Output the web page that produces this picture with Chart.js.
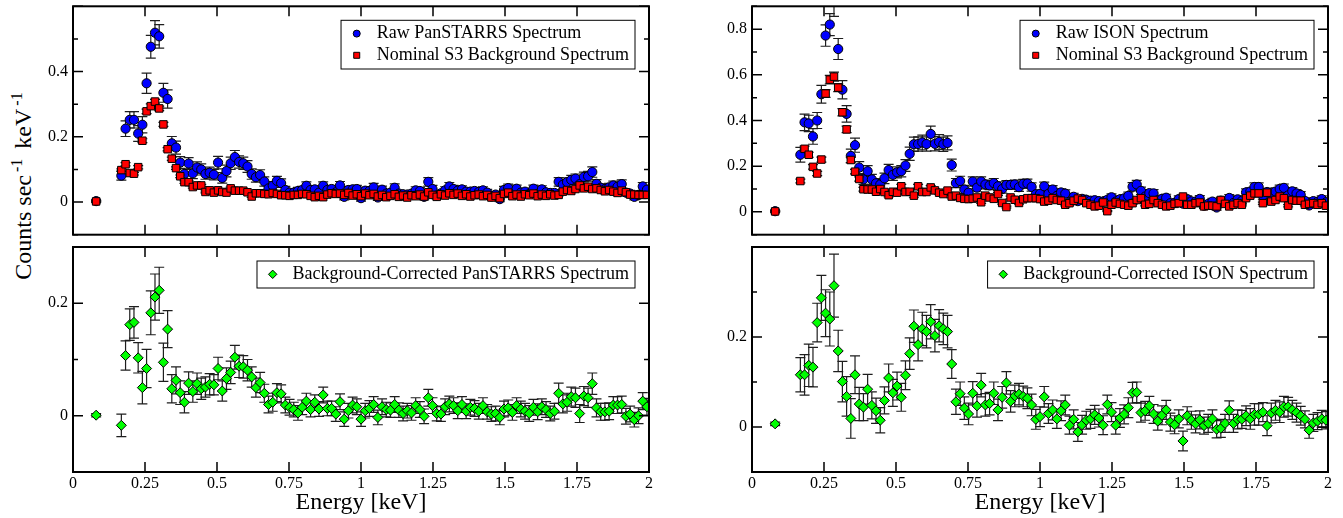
<!DOCTYPE html>
<html>
<head>
<meta charset="utf-8">
<title>PanSTARRS / ISON spectra</title>
<script src="https://cdn.jsdelivr.net/npm/chart.js@4.4.0/dist/chart.umd.min.js"></script>
<style>
  body { margin: 0; background: #fff; width: 1343px; height: 518px; position: relative; overflow: hidden;
         font-family: 'Liberation Serif', 'Times New Roman', serif; }
  canvas.panel { position: absolute; }
  #ylabel { position: absolute; left: 22px; top: 184px; transform: translate(-50%, -50%) rotate(-90deg);
            font-size: 24px; white-space: nowrap; color: #000; }
  #ylabel sup { font-size: 16px; margin: 0 4px 0 3px; }
</style>
</head>
<body>
<div id="ylabel">Counts sec<sup>-1</sup> keV<sup>-1</sup></div>
<canvas id="pan-top" class="panel" style="left:0;top:0" width="660" height="241"></canvas>
<canvas id="pan-net" class="panel" style="left:0;top:241px" width="660" height="277"></canvas>
<canvas id="ison-top" class="panel" style="left:679px;top:0" width="660" height="241"></canvas>
<canvas id="ison-net" class="panel" style="left:679px;top:241px" width="660" height="277"></canvas>
<script>
// channel energies (keV), one row per 10 channels
var energy = [0.0803,
  0.1679, 0.1825, 0.1971, 0.2117, 0.2263, 0.2409, 0.2555, 0.2701, 0.2847, 0.2993,
  0.3139, 0.3285, 0.3431, 0.3577, 0.3723, 0.3869, 0.4015, 0.4161, 0.4307, 0.4453,
  0.4599, 0.4745, 0.4891, 0.5037, 0.5183, 0.5329, 0.5475, 0.5621, 0.5767, 0.5913,
  0.6059, 0.6205, 0.6351, 0.6497, 0.6643, 0.6789, 0.6935, 0.7081, 0.7227, 0.7373,
  0.7519, 0.7665, 0.7811, 0.7957, 0.8103, 0.8249, 0.8395, 0.8541, 0.8687, 0.8833,
  0.8979, 0.9125, 0.9271, 0.9417, 0.9563, 0.9709, 0.9855, 1.0001, 1.0147, 1.0293,
  1.0439, 1.0585, 1.0731, 1.0877, 1.1023, 1.1169, 1.1315, 1.1461, 1.1607, 1.1753,
  1.1899, 1.2045, 1.2191, 1.2337, 1.2483, 1.2629, 1.2775, 1.2921, 1.3067, 1.3213,
  1.3359, 1.3505, 1.3651, 1.3797, 1.3943, 1.4089, 1.4235, 1.4381, 1.4527, 1.4673,
  1.4819, 1.4965, 1.5111, 1.5257, 1.5403, 1.5549, 1.5695, 1.5841, 1.5987, 1.6133,
  1.6279, 1.6425, 1.6571, 1.6717, 1.6863, 1.7009, 1.7155, 1.7301, 1.7447, 1.7593,
  1.7739, 1.7885, 1.8031, 1.8177, 1.8323, 1.8469, 1.8615, 1.8761, 1.8907, 1.9053,
  1.9199, 1.9345, 1.9491, 1.9637, 1.9783, 1.9929];

// PanSTARRS: raw spectrum
var panRaw = [0.003,
  0.081, 0.225, 0.252, 0.252, 0.210, 0.237, 0.364, 0.476, 0.519, 0.508,
  0.335, 0.316, 0.180, 0.167, 0.121, 0.086, 0.118, 0.088, 0.106, 0.100,
  0.086, 0.090, 0.084, 0.121, 0.074, 0.095, 0.119, 0.138, 0.123, 0.119,
  0.109, 0.086, 0.076, 0.083, 0.063, 0.042, 0.050, 0.065, 0.058, 0.037,
  0.029, 0.029, 0.034, 0.037, 0.050, 0.037, 0.039, 0.029, 0.050, 0.037,
  0.040, 0.030, 0.051, 0.016, 0.037, 0.039, 0.040, 0.012, 0.035, 0.034,
  0.045, 0.014, 0.038, 0.026, 0.029, 0.044, 0.026, 0.024, 0.023, 0.026,
  0.036, 0.034, 0.016, 0.062, 0.040, 0.020, 0.027, 0.036, 0.048, 0.040,
  0.035, 0.039, 0.032, 0.032, 0.034, 0.031, 0.036, 0.029, 0.017, 0.023,
  0.009, 0.037, 0.043, 0.024, 0.041, 0.029, 0.032, 0.025, 0.041, 0.025,
  0.039, 0.030, 0.028, 0.028, 0.062, 0.053, 0.061, 0.068, 0.072, 0.055,
  0.077, 0.079, 0.092, 0.056, 0.044, 0.040, 0.045, 0.051, 0.047, 0.055,
  0.029, 0.026, 0.016, 0.022, 0.048, 0.038];
var panRawErr = [0.003,
  0.014, 0.024, 0.025, 0.025, 0.024, 0.025, 0.031, 0.035, 0.037, 0.036,
  0.029, 0.028, 0.021, 0.020, 0.018, 0.016, 0.018, 0.016, 0.017, 0.017,
  0.016, 0.017, 0.016, 0.019, 0.016, 0.018, 0.019, 0.020, 0.019, 0.019,
  0.018, 0.016, 0.015, 0.016, 0.014, 0.012, 0.013, 0.014, 0.013, 0.011,
  0.011, 0.011, 0.011, 0.011, 0.012, 0.011, 0.011, 0.010, 0.012, 0.011,
  0.011, 0.010, 0.012, 0.009, 0.011, 0.011, 0.011, 0.009, 0.011, 0.011,
  0.012, 0.009, 0.011, 0.010, 0.010, 0.012, 0.010, 0.010, 0.010, 0.010,
  0.011, 0.011, 0.009, 0.013, 0.011, 0.010, 0.010, 0.011, 0.012, 0.011,
  0.011, 0.011, 0.010, 0.010, 0.011, 0.010, 0.011, 0.010, 0.009, 0.010,
  0.008, 0.011, 0.012, 0.010, 0.011, 0.010, 0.010, 0.010, 0.011, 0.010,
  0.011, 0.010, 0.010, 0.010, 0.013, 0.013, 0.013, 0.014, 0.014, 0.013,
  0.015, 0.015, 0.016, 0.013, 0.012, 0.012, 0.012, 0.013, 0.012, 0.013,
  0.010, 0.010, 0.009, 0.010, 0.012, 0.011];

// PanSTARRS: nominal S3 background
var panBkg = [0.002,
  0.098, 0.116, 0.089, 0.087, 0.107, 0.188, 0.278, 0.294, 0.308, 0.287,
  0.238, 0.162, 0.133, 0.104, 0.079, 0.061, 0.061, 0.046, 0.051, 0.051,
  0.031, 0.036, 0.029, 0.036, 0.031, 0.029, 0.042, 0.035, 0.035, 0.035,
  0.030, 0.017, 0.027, 0.027, 0.025, 0.024, 0.028, 0.025, 0.021, 0.021,
  0.019, 0.022, 0.022, 0.025, 0.024, 0.019, 0.015, 0.019, 0.015, 0.023,
  0.027, 0.025, 0.026, 0.022, 0.028, 0.020, 0.024, 0.018, 0.026, 0.021,
  0.025, 0.017, 0.022, 0.015, 0.019, 0.024, 0.016, 0.020, 0.014, 0.021,
  0.018, 0.023, 0.017, 0.030, 0.022, 0.016, 0.024, 0.020, 0.027, 0.022,
  0.026, 0.019, 0.024, 0.017, 0.021, 0.023, 0.018, 0.022, 0.014, 0.019,
  0.012, 0.025, 0.029, 0.018, 0.023, 0.017, 0.024, 0.021, 0.026, 0.018,
  0.023, 0.019, 0.024, 0.020, 0.022, 0.032, 0.037, 0.034, 0.040, 0.051,
  0.042, 0.047, 0.040, 0.042, 0.037, 0.033, 0.037, 0.032, 0.028, 0.035,
  0.030, 0.023, 0.023, 0.022, 0.022, 0.022];
var panBkgErr = [0.002,
  0.004, 0.005, 0.004, 0.004, 0.005, 0.006, 0.007, 0.007, 0.007, 0.007,
  0.006, 0.005, 0.005, 0.004, 0.004, 0.004, 0.004, 0.003, 0.003, 0.003,
  0.003, 0.003, 0.003, 0.003, 0.003, 0.003, 0.004, 0.003, 0.003, 0.003,
  0.003, 0.003, 0.003, 0.003, 0.003, 0.003, 0.003, 0.003, 0.003, 0.003,
  0.003, 0.003, 0.003, 0.003, 0.003, 0.003, 0.003, 0.003, 0.003, 0.003,
  0.003, 0.003, 0.003, 0.003, 0.003, 0.003, 0.003, 0.003, 0.003, 0.003,
  0.003, 0.003, 0.003, 0.003, 0.003, 0.003, 0.003, 0.003, 0.003, 0.003,
  0.003, 0.003, 0.003, 0.003, 0.003, 0.003, 0.003, 0.003, 0.003, 0.003,
  0.003, 0.003, 0.003, 0.003, 0.003, 0.003, 0.003, 0.003, 0.003, 0.003,
  0.003, 0.003, 0.003, 0.003, 0.003, 0.003, 0.003, 0.003, 0.003, 0.003,
  0.003, 0.003, 0.003, 0.003, 0.003, 0.004, 0.004, 0.004, 0.004, 0.004,
  0.004, 0.004, 0.004, 0.004, 0.004, 0.004, 0.004, 0.003, 0.003, 0.003,
  0.003, 0.003, 0.003, 0.003, 0.003, 0.003];

// PanSTARRS: background-corrected
var panNet = [0.001,
  -0.017, 0.107, 0.162, 0.166, 0.103, 0.050, 0.084, 0.183, 0.211, 0.223,
  0.095, 0.154, 0.048, 0.063, 0.041, 0.024, 0.058, 0.043, 0.057, 0.048,
  0.051, 0.056, 0.055, 0.084, 0.044, 0.066, 0.077, 0.104, 0.088, 0.087,
  0.081, 0.069, 0.050, 0.059, 0.040, 0.020, 0.024, 0.041, 0.039, 0.019,
  0.015, 0.011, 0.005, 0.015, 0.026, 0.011, 0.024, 0.012, 0.037, 0.013,
  0.013, 0.003, 0.025, -0.006, 0.009, 0.019, 0.016, -0.006, 0.009, 0.013,
  0.020, -0.003, 0.016, 0.011, 0.010, 0.020, 0.010, 0.004, 0.009, 0.005,
  0.018, 0.011, -0.001, 0.032, 0.018, 0.004, 0.003, 0.016, 0.021, 0.018,
  0.009, 0.020, 0.008, 0.015, 0.013, 0.008, 0.018, 0.007, 0.003, 0.004,
  -0.003, 0.012, 0.014, 0.006, 0.018, 0.012, 0.008, 0.004, 0.015, 0.007,
  0.016, 0.011, 0.004, 0.008, 0.040, 0.021, 0.024, 0.034, 0.032, 0.004,
  0.035, 0.032, 0.057, 0.014, 0.007, 0.007, 0.008, 0.019, 0.019, 0.020,
  -0.001, 0.003, -0.007, 0.000, 0.026, 0.016];
var panNetErr = [0.003,
  0.020, 0.026, 0.028, 0.028, 0.027, 0.029, 0.034, 0.039, 0.041, 0.041,
  0.034, 0.033, 0.025, 0.024, 0.021, 0.019, 0.020, 0.019, 0.019, 0.019,
  0.018, 0.019, 0.018, 0.020, 0.018, 0.019, 0.020, 0.021, 0.020, 0.020,
  0.019, 0.018, 0.017, 0.018, 0.016, 0.015, 0.016, 0.016, 0.016, 0.014,
  0.014, 0.013, 0.013, 0.013, 0.014, 0.013, 0.013, 0.013, 0.014, 0.013,
  0.013, 0.013, 0.014, 0.013, 0.013, 0.014, 0.014, 0.013, 0.013, 0.014,
  0.014, 0.013, 0.014, 0.013, 0.013, 0.014, 0.013, 0.013, 0.013, 0.013,
  0.014, 0.014, 0.013, 0.015, 0.014, 0.013, 0.013, 0.014, 0.014, 0.014,
  0.014, 0.014, 0.013, 0.014, 0.014, 0.014, 0.014, 0.013, 0.013, 0.013,
  0.013, 0.014, 0.014, 0.014, 0.014, 0.014, 0.014, 0.014, 0.014, 0.014,
  0.014, 0.014, 0.013, 0.014, 0.018, 0.016, 0.016, 0.017, 0.017, 0.016,
  0.017, 0.017, 0.019, 0.016, 0.015, 0.015, 0.015, 0.015, 0.015, 0.015,
  0.014, 0.014, 0.013, 0.014, 0.015, 0.015];

// ISON: raw spectrum
var isonRaw = [0.003,
  0.250, 0.392, 0.387, 0.330, 0.400, 0.515, 0.772, 0.820, 0.906, 0.713,
  0.535, 0.429, 0.245, 0.292, 0.194, 0.142, 0.178, 0.142, 0.125, 0.120,
  0.147, 0.183, 0.162, 0.173, 0.178, 0.203, 0.254, 0.296, 0.297, 0.304,
  0.297, 0.341, 0.298, 0.306, 0.296, 0.302, 0.205, 0.126, 0.135, 0.098,
  0.084, 0.133, 0.106, 0.133, 0.120, 0.116, 0.126, 0.112, 0.100, 0.118,
  0.118, 0.120, 0.108, 0.123, 0.124, 0.109, 0.077, 0.079, 0.112, 0.079,
  0.098, 0.070, 0.085, 0.080, 0.042, 0.066, 0.047, 0.057, 0.053, 0.049,
  0.051, 0.047, 0.045, 0.053, 0.064, 0.045, 0.055, 0.059, 0.070, 0.110,
  0.120, 0.092, 0.067, 0.082, 0.081, 0.051, 0.057, 0.062, 0.038, 0.040,
  0.056, 0.036, 0.056, 0.046, 0.045, 0.057, 0.027, 0.035, 0.045, 0.019,
  0.049, 0.043, 0.061, 0.039, 0.055, 0.048, 0.085, 0.089, 0.109, 0.109,
  0.071, 0.087, 0.076, 0.089, 0.100, 0.105, 0.072, 0.090, 0.081, 0.074,
  0.048, 0.028, 0.047, 0.044, 0.056, 0.042];
var isonRawErr = [0.004,
  0.032, 0.036, 0.036, 0.034, 0.035, 0.039, 0.047, 0.048, 0.050, 0.046,
  0.040, 0.036, 0.030, 0.031, 0.026, 0.022, 0.024, 0.022, 0.021, 0.021,
  0.023, 0.025, 0.024, 0.024, 0.025, 0.026, 0.029, 0.031, 0.031, 0.032,
  0.031, 0.034, 0.031, 0.032, 0.031, 0.031, 0.026, 0.020, 0.021, 0.018,
  0.017, 0.020, 0.018, 0.020, 0.019, 0.019, 0.020, 0.019, 0.018, 0.019,
  0.019, 0.019, 0.018, 0.019, 0.019, 0.018, 0.016, 0.016, 0.018, 0.016,
  0.017, 0.015, 0.016, 0.016, 0.013, 0.015, 0.014, 0.015, 0.014, 0.014,
  0.014, 0.014, 0.014, 0.014, 0.015, 0.014, 0.015, 0.015, 0.016, 0.018,
  0.018, 0.016, 0.015, 0.016, 0.016, 0.014, 0.015, 0.015, 0.013, 0.013,
  0.014, 0.013, 0.014, 0.014, 0.014, 0.014, 0.012, 0.013, 0.014, 0.012,
  0.014, 0.014, 0.015, 0.014, 0.015, 0.014, 0.016, 0.016, 0.018, 0.018,
  0.015, 0.016, 0.016, 0.016, 0.017, 0.017, 0.015, 0.016, 0.016, 0.015,
  0.013, 0.012, 0.013, 0.013, 0.014, 0.013];

// ISON: nominal S3 background
var isonBkg = [0.002,
  0.135, 0.276, 0.250, 0.197, 0.168, 0.229, 0.518, 0.579, 0.592, 0.544,
  0.436, 0.361, 0.227, 0.176, 0.144, 0.099, 0.098, 0.098, 0.088, 0.100,
  0.087, 0.073, 0.088, 0.084, 0.112, 0.087, 0.088, 0.071, 0.112, 0.087,
  0.087, 0.107, 0.094, 0.084, 0.078, 0.093, 0.067, 0.071, 0.061, 0.057,
  0.056, 0.058, 0.063, 0.042, 0.071, 0.063, 0.057, 0.078, 0.039, 0.021,
  0.063, 0.053, 0.039, 0.055, 0.060, 0.060, 0.060, 0.056, 0.045, 0.049,
  0.060, 0.052, 0.049, 0.031, 0.038, 0.049, 0.058, 0.052, 0.038, 0.031,
  0.024, 0.027, 0.041, 0.003, 0.031, 0.041, 0.035, 0.031, 0.027, 0.038,
  0.052, 0.060, 0.031, 0.035, 0.052, 0.038, 0.031, 0.024, 0.027, 0.035,
  0.038, 0.067, 0.031, 0.031, 0.038, 0.041, 0.024, 0.027, 0.027, 0.024,
  0.052, 0.035, 0.024, 0.031, 0.038, 0.031, 0.060, 0.071, 0.081, 0.081,
  0.038, 0.084, 0.045, 0.052, 0.067, 0.060, 0.027, 0.052, 0.049, 0.049,
  0.031, 0.035, 0.038, 0.031, 0.038, 0.027];
var isonBkgErr = [0.002,
  0.008, 0.012, 0.011, 0.010, 0.009, 0.011, 0.017, 0.019, 0.020, 0.018,
  0.016, 0.014, 0.011, 0.010, 0.009, 0.008, 0.008, 0.008, 0.007, 0.008,
  0.007, 0.007, 0.007, 0.007, 0.008, 0.007, 0.007, 0.007, 0.008, 0.007,
  0.007, 0.008, 0.007, 0.007, 0.007, 0.007, 0.006, 0.006, 0.006, 0.006,
  0.006, 0.006, 0.006, 0.005, 0.006, 0.006, 0.006, 0.006, 0.005, 0.004,
  0.006, 0.006, 0.005, 0.006, 0.006, 0.006, 0.006, 0.006, 0.005, 0.006,
  0.006, 0.006, 0.006, 0.005, 0.005, 0.006, 0.006, 0.006, 0.005, 0.005,
  0.005, 0.005, 0.005, 0.002, 0.005, 0.005, 0.005, 0.005, 0.005, 0.005,
  0.006, 0.006, 0.005, 0.005, 0.006, 0.005, 0.005, 0.005, 0.005, 0.005,
  0.005, 0.006, 0.005, 0.005, 0.005, 0.005, 0.005, 0.005, 0.005, 0.005,
  0.006, 0.005, 0.005, 0.005, 0.005, 0.005, 0.006, 0.007, 0.007, 0.007,
  0.005, 0.007, 0.006, 0.006, 0.006, 0.006, 0.005, 0.006, 0.006, 0.006,
  0.005, 0.005, 0.005, 0.005, 0.005, 0.005];

// ISON: background-corrected
var isonNet = [0.007,
  0.116, 0.116, 0.137, 0.133, 0.232, 0.287, 0.253, 0.240, 0.314, 0.169,
  0.101, 0.068, 0.019, 0.116, 0.051, 0.044, 0.084, 0.048, 0.036, 0.015,
  0.059, 0.109, 0.076, 0.091, 0.066, 0.115, 0.163, 0.224, 0.183, 0.218,
  0.212, 0.234, 0.203, 0.225, 0.218, 0.212, 0.140, 0.056, 0.074, 0.042,
  0.029, 0.075, 0.047, 0.093, 0.049, 0.052, 0.075, 0.038, 0.066, 0.098,
  0.057, 0.069, 0.073, 0.068, 0.064, 0.049, 0.017, 0.023, 0.067, 0.030,
  0.038, 0.018, 0.036, 0.049, 0.004, 0.017, -0.011, 0.005, 0.015, 0.018,
  0.027, 0.020, 0.004, 0.050, 0.033, 0.004, 0.020, 0.028, 0.043, 0.076,
  0.077, 0.032, 0.036, 0.047, 0.029, 0.013, 0.026, 0.038, 0.011, 0.005,
  0.018, -0.031, 0.025, 0.015, 0.007, 0.016, 0.003, 0.008, 0.018, -0.005,
  -0.003, 0.008, 0.037, 0.008, 0.017, 0.017, 0.025, 0.018, 0.028, 0.028,
  0.033, 0.003, 0.031, 0.037, 0.033, 0.045, 0.045, 0.038, 0.032, 0.025,
  0.017, -0.007, 0.009, 0.013, 0.018, 0.015];
var isonNetErr = [0.004,
  0.038, 0.045, 0.047, 0.044, 0.043, 0.050, 0.052, 0.060, 0.070, 0.046,
  0.045, 0.044, 0.044, 0.042, 0.037, 0.030, 0.033, 0.030, 0.028, 0.028,
  0.030, 0.031, 0.030, 0.031, 0.031, 0.032, 0.035, 0.036, 0.036, 0.037,
  0.036, 0.038, 0.036, 0.036, 0.035, 0.036, 0.032, 0.028, 0.026, 0.025,
  0.024, 0.026, 0.025, 0.026, 0.025, 0.025, 0.025, 0.024, 0.024, 0.025,
  0.024, 0.024, 0.024, 0.023, 0.023, 0.024, 0.022, 0.022, 0.023, 0.022,
  0.022, 0.021, 0.022, 0.022, 0.020, 0.021, 0.021, 0.021, 0.020, 0.021,
  0.021, 0.020, 0.021, 0.021, 0.021, 0.020, 0.021, 0.021, 0.022, 0.023,
  0.023, 0.021, 0.021, 0.021, 0.021, 0.020, 0.021, 0.021, 0.020, 0.020,
  0.020, 0.022, 0.020, 0.020, 0.020, 0.020, 0.019, 0.020, 0.020, 0.019,
  0.020, 0.020, 0.021, 0.020, 0.021, 0.020, 0.022, 0.023, 0.024, 0.024,
  0.021, 0.022, 0.022, 0.022, 0.023, 0.023, 0.021, 0.021, 0.021, 0.021,
  0.019, 0.018, 0.019, 0.019, 0.019, 0.019];

Chart.defaults.font.family = "'Liberation Serif', 'Times New Roman', serif";
Chart.defaults.color = '#000';

function points(vals) {
  return energy.map(function(e, i) { return { x: e, y: vals[i] }; });
}

// small helper for legend symbols
function drawSymbol(ctx, style, x, y, r) {
  ctx.beginPath();
  if (style === 'circle') {
    ctx.arc(x, y, r, 0, Math.PI * 2);
  } else if (style === 'rect') {
    ctx.rect(x - r, y - r, 2 * r, 2 * r);
  } else {
    ctx.moveTo(x - r, y); ctx.lineTo(x, y - r); ctx.lineTo(x + r, y); ctx.lineTo(x, y + r); ctx.closePath();
  }
  ctx.fill();
  ctx.stroke();
}

// vertical error bars with caps, drawn just under each dataset
var errorBars = {
  id: 'errorBars',
  beforeDatasetDraw: function(chart, args) {
    var ds = chart.data.datasets[args.index];
    if (!ds.errors) return;
    var ctx = chart.ctx, a = chart.chartArea, xs = chart.scales.x, ys = chart.scales.y;
    ctx.save();
    ctx.beginPath();
    ctx.rect(a.left, a.top, a.right - a.left, a.bottom - a.top);
    ctx.clip();
    ctx.strokeStyle = '#1e1e1e';
    ctx.lineWidth = 1.2;
    ds.data.forEach(function(p, i) {
      var e = ds.errors[i];
      var px = xs.getPixelForValue(p.x);
      var lo = ys.getPixelForValue(p.y - e), hi = ys.getPixelForValue(p.y + e);
      ctx.beginPath();
      ctx.moveTo(px, lo); ctx.lineTo(px, hi);
      ctx.moveTo(px - 5, lo); ctx.lineTo(px + 5, lo);
      ctx.moveTo(px - 5, hi); ctx.lineTo(px + 5, hi);
      ctx.stroke();
    });
    ctx.restore();
  }
};

// box frame with inward tick marks on all four sides
var frameTicks = {
  id: 'frameTicks',
  afterDraw: function(chart) {
    var ctx = chart.ctx, a = chart.chartArea, xs = chart.scales.x, ys = chart.scales.y;
    ctx.save();
    ctx.strokeStyle = '#000';
    ctx.lineWidth = 1.5;
    ctx.beginPath();
    xs.ticks.forEach(function(t) {
      var px = xs.getPixelForValue(t.value);
      ctx.moveTo(px, a.bottom); ctx.lineTo(px, a.bottom - 10);
      ctx.moveTo(px, a.top); ctx.lineTo(px, a.top + 10);
    });
    ys.ticks.forEach(function(t) {
      var py = ys.getPixelForValue(t.value);
      var len = Math.round(t.value * 10) % 2 === 0 ? 10 : 5;
      ctx.moveTo(a.left, py); ctx.lineTo(a.left + len, py);
      ctx.moveTo(a.right, py); ctx.lineTo(a.right - len, py);
    });
    ctx.stroke();
    ctx.lineWidth = 2;
    ctx.strokeRect(a.left, a.top, a.right - a.left, a.bottom - a.top);
    ctx.restore();
  }
};

// legend box in the upper right corner of the plot
var boxLegend = {
  id: 'boxLegend',
  afterDraw: function(chart) {
    var ctx = chart.ctx, a = chart.chartArea, items = chart.data.datasets;
    ctx.save();
    ctx.font = "18px 'Liberation Serif'";
    var textW = Math.max.apply(null, items.map(function(d) { return ctx.measureText(d.label).width; }));
    var right = a.right - 14, top = a.top + 14;
    var left = right - (textW + 41.5);
    var h = items.length * 21.7 + 5.3;
    ctx.fillStyle = '#fff';
    ctx.fillRect(left, top, right - left, h);
    ctx.strokeStyle = '#000';
    ctx.lineWidth = 1;
    ctx.strokeRect(left, top, right - left, h);
    items.forEach(function(d, i) {
      var cy = top + 13.3 + i * 21.7;
      ctx.fillStyle = d.markerColor;
      ctx.strokeStyle = '#000';
      ctx.lineWidth = 1;
      drawSymbol(ctx, d.pointStyle, left + 15.7, cy, d.pointStyle === 'circle' ? 3.5 : d.pointStyle === 'rect' ? 3 : 4.2);
      ctx.fillStyle = '#000';
      ctx.textBaseline = 'middle';
      ctx.textAlign = 'left';
      ctx.fillText(d.label, left + 35.6, cy);
    });
    ctx.restore();
  }
};

function series(label, vals, errs, style, color, order) {
  var r = style === 'circle' ? 4.6 : style === 'rect' ? 5.3 : 5;
  return {
    label: label,
    data: points(vals),
    errors: errs,
    markerColor: color,
    showLine: false,
    pointStyle: style,
    // symbols whose centre falls outside the y range are not drawn
    pointRadius: function(c) {
      var ys = c.chart.scales.y;
      return c.raw && (c.raw.y > ys.max || c.raw.y < ys.min) ? 0 : r;
    },
    pointBackgroundColor: color,
    pointBorderColor: '#000',
    pointBorderWidth: 1,
    order: order
  };
}

function makePanel(id, datasets, yMin, yMax, bottom) {
  return new Chart(document.getElementById(id), {
    type: 'scatter',
    data: { datasets: datasets },
    plugins: [errorBars, frameTicks, boxLegend],
    options: {
      responsive: false,
      animation: false,
      events: [],
      layout: { padding: { top: bottom ? 2 : 3, right: 11, bottom: 0, left: 0 } },
      plugins: { legend: { display: false }, tooltip: { enabled: false } },
      scales: {
        x: {
          type: 'linear', min: 0, max: 2,
          grid: { display: false, drawTicks: false, tickLength: 0 },
          border: { display: false },
          ticks: {
            display: bottom, stepSize: 0.25, padding: 2, autoSkip: false, maxRotation: 0,
            font: { size: 16 },
            callback: function(v) { return String(+v.toFixed(2)); }
          },
          title: { display: bottom, text: 'Energy [keV]', font: { size: 24 }, padding: { top: 0, bottom: 1 } },
          afterFit: function(s) { s.height = bottom ? 46 : 2; s.paddingLeft = 0; s.paddingRight = 0; }
        },
        y: {
          min: yMin, max: yMax,
          grid: { display: false, drawTicks: false, tickLength: 0 },
          border: { display: false },
          ticks: {
            stepSize: 0.1, padding: 5, autoSkip: false, font: { size: 16 },
            callback: function(v) {
              var k = Math.round(v * 10);
              if (k < 0 || k % 2 !== 0 || Math.abs(v - yMax) < 1e-9) return '';
              return String(k / 10);
            }
          },
          afterFit: function(s) { s.width = 73; s.paddingTop = 0; s.paddingBottom = 0; }
        }
      }
    }
  });
}

makePanel('pan-top', [
  series('Raw PanSTARRS Spectrum', panRaw, panRawErr, 'circle', '#0000ff', 2),
  series('Nominal S3 Background Spectrum', panBkg, panBkgErr, 'rect', '#ff0000', 1)
], -0.1, 0.6, false);

makePanel('pan-net', [
  series('Background-Corrected PanSTARRS Spectrum', panNet, panNetErr, 'rectRot', '#00ff00', 1)
], -0.1, 0.3, true);

makePanel('ison-top', [
  series('Raw ISON Spectrum', isonRaw, isonRawErr, 'circle', '#0000ff', 2),
  series('Nominal S3 Background Spectrum', isonBkg, isonBkgErr, 'rect', '#ff0000', 1)
], -0.1, 0.9, false);

makePanel('ison-net', [
  series('Background-Corrected ISON Spectrum', isonNet, isonNetErr, 'rectRot', '#00ff00', 1)
], -0.1, 0.4, true);
</script>
</body>
</html>
